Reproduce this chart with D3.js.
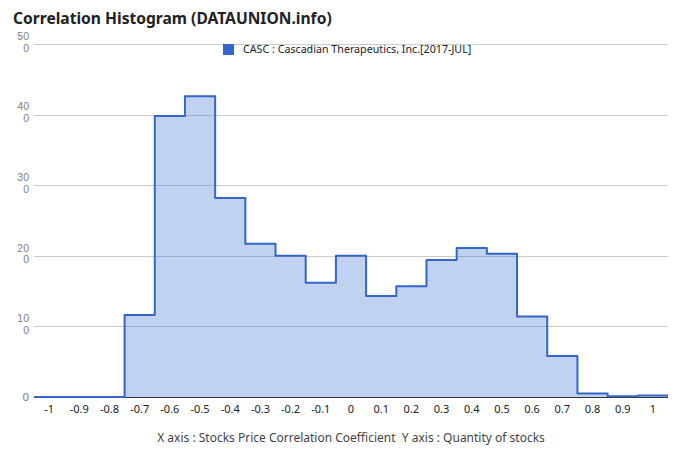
<!DOCTYPE html>
<html><head><meta charset="utf-8">
<script src="https://cdn.jsdelivr.net/npm/d3@7"></script>
<style>body{margin:0;background:#fff}svg{display:block}text{font-family:"Noto Sans","Open Sans",sans-serif}text.yl2{font-family:"Liberation Sans",Arial,sans-serif}</style>
</head><body>
<svg id="c" width="680" height="462"></svg>
<script>
const binCenters = [-1,-0.9,-0.8,-0.7,-0.6,-0.5,-0.4,-0.3,-0.2,-0.1,0,0.1,0.2,0.3,0.4,0.5,0.6,0.7,0.8,0.9,1];
const counts = [0,0,0,116,398,426,282,217,200,162,200,143,157,194,211,203,114,58,5,1,2];
const xTickLabels = ["-1","-0.9","-0.8","-0.7","-0.6","-0.5","-0.4","-0.3","-0.2","-0.1","0","0.1","0.2","0.3","0.4","0.5","0.6","0.7","0.8","0.9","1"];
const yTicks = [0,100,200,300,400,500];
const seriesName = "CASC : Cascadian Therapeutics, Inc.[2017-JUL]";
const binWidth = 0.1;

const svg = d3.select("#c");
const x = d3.scaleLinear().domain([-1.05,1.05]).range([34,668]);
const y = d3.scaleLinear().domain([0,500]).range([397,44]);

// title
svg.append("text").attr("x",13).attr("y",24).attr("font-size",15.6).attr("font-weight","bold").attr("fill","#222")
  .text("Correlation Histogram (DATAUNION.info)");

// gridlines
svg.append("g").selectAll("line").data(yTicks.filter(d=>d>0)).join("line")
  .attr("x1",x.range()[0]).attr("x2",x.range()[1])
  .attr("y1",d=>Math.round(y(d))+0.5).attr("y2",d=>Math.round(y(d))+0.5)
  .attr("stroke","#cccccc").attr("stroke-width",1);

// y labels (wrapped onto two lines like the original)
const yl = svg.append("g").attr("fill","#808080").attr("text-anchor","end");
yTicks.forEach(t=>{
  const s = String(t);
  const yy = y(t);
  if (s.length>2) {
    yl.append("text").attr("class","yl2").attr("x",29).attr("y",yy-4.3).attr("font-size",10.5).text(s.slice(0,2));
    yl.append("text").attr("class","yl2").attr("x",29).attr("y",yy+7.6).attr("font-size",10.5).text(s.slice(2));
  } else {
    yl.append("text").attr("x",29).attr("y",yy+4).attr("font-size",11.5).text(s);
  }
});

// data points for step
const pts = [];
binCenters.forEach((c,i)=>{ pts.push([c-binWidth/2,counts[i]]); pts.push([c+binWidth/2,counts[i]]); });

const area = d3.area().x(d=>x(d[0])).y0(y(0)).y1(d=>y(d[1]));
const line = d3.line().x(d=>x(d[0])).y(d=>y(d[1]));
svg.append("path").datum(pts).attr("d",area).attr("fill","#3366cc").attr("fill-opacity",0.3);

// baseline axis
svg.append("line").attr("x1",x.range()[0]).attr("x2",x.range()[1]).attr("y1",y(0)+0.5).attr("y2",y(0)+0.5).attr("stroke","#333").attr("stroke-width",1);

svg.append("path").datum(pts).attr("d",line).attr("fill","none").attr("stroke","#3366cc").attr("stroke-width",2).attr("stroke-linejoin","round");

// x tick labels
svg.append("g").attr("font-size",11).attr("fill","#222").attr("text-anchor","middle")
  .selectAll("text").data(binCenters).join("text")
  .attr("x",d=>x(d)).attr("y",413).text((d,i)=>xTickLabels[i]);

// legend
svg.append("rect").attr("x",223).attr("y",44).attr("width",11).attr("height",11).attr("fill","#3366cc");
svg.append("text").attr("x",243).attr("y",53).attr("font-size",10.7).attr("fill","#222").text(seriesName);

// axis title
svg.append("text").attr("x",351).attr("y",442).attr("text-anchor","middle").attr("font-size",12).attr("fill","#444")
  .attr("xml:space","preserve").text("X axis : Stocks Price Correlation Coefficient  Y axis : Quantity of stocks");
</script>
</body></html>
